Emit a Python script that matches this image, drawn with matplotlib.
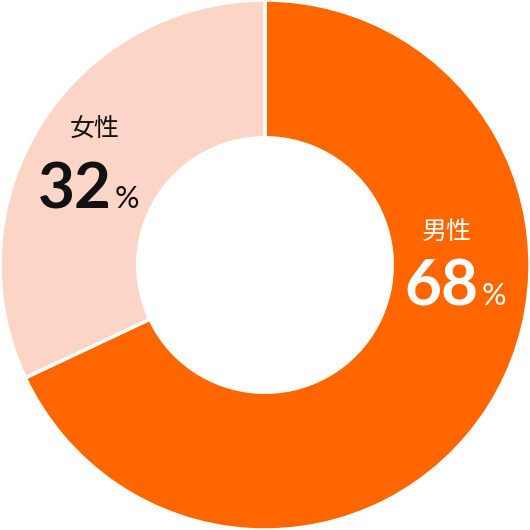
import matplotlib
matplotlib.use("Agg")
import matplotlib.pyplot as plt

plt.rcParams['font.family'] = ['Noto Sans CJK JP', 'DejaVu Sans']

labels = ["男性", "女性"]
values = [68, 32]
colors = ["#FF6600", "#FDD5C6"]
text_colors = ["white", "#111111"]

fig = plt.figure(figsize=(5.3, 5.3), dpi=100)
ax = fig.add_axes([0, 0, 1, 1])
ax.pie(values, colors=colors, startangle=90, counterclock=False, radius=1.0,
       wedgeprops=dict(width=0.52, edgecolor="white", linewidth=2.5))
ax.set_xlim(-1, 1)
ax.set_ylim(-1, 1)
ax.set_aspect("equal")
ax.axis("off")

# label anchor points (data units): name centre, number right edge / baseline
name_pos = [(0.687, 0.121), (-0.642, 0.509)]
num_pos = [(0.806, -0.151), (-0.579, 0.215)]

for lab, v, col, (nx, ny), (px, py) in zip(labels, values, text_colors, name_pos, num_pos):
    ax.text(nx, ny, lab, color=col, fontsize=18, ha="center", va="center")
    ax.text(px, py, str(v), color=col, fontsize=46, fontweight="bold",
            family=["Lato", "DejaVu Sans"], ha="right", va="baseline")
    ax.text(px + 0.012, py, "%", color=col, fontsize=22,
            family=["Lato", "DejaVu Sans"], ha="left", va="baseline")

fig.savefig("out.png", dpi=100)
